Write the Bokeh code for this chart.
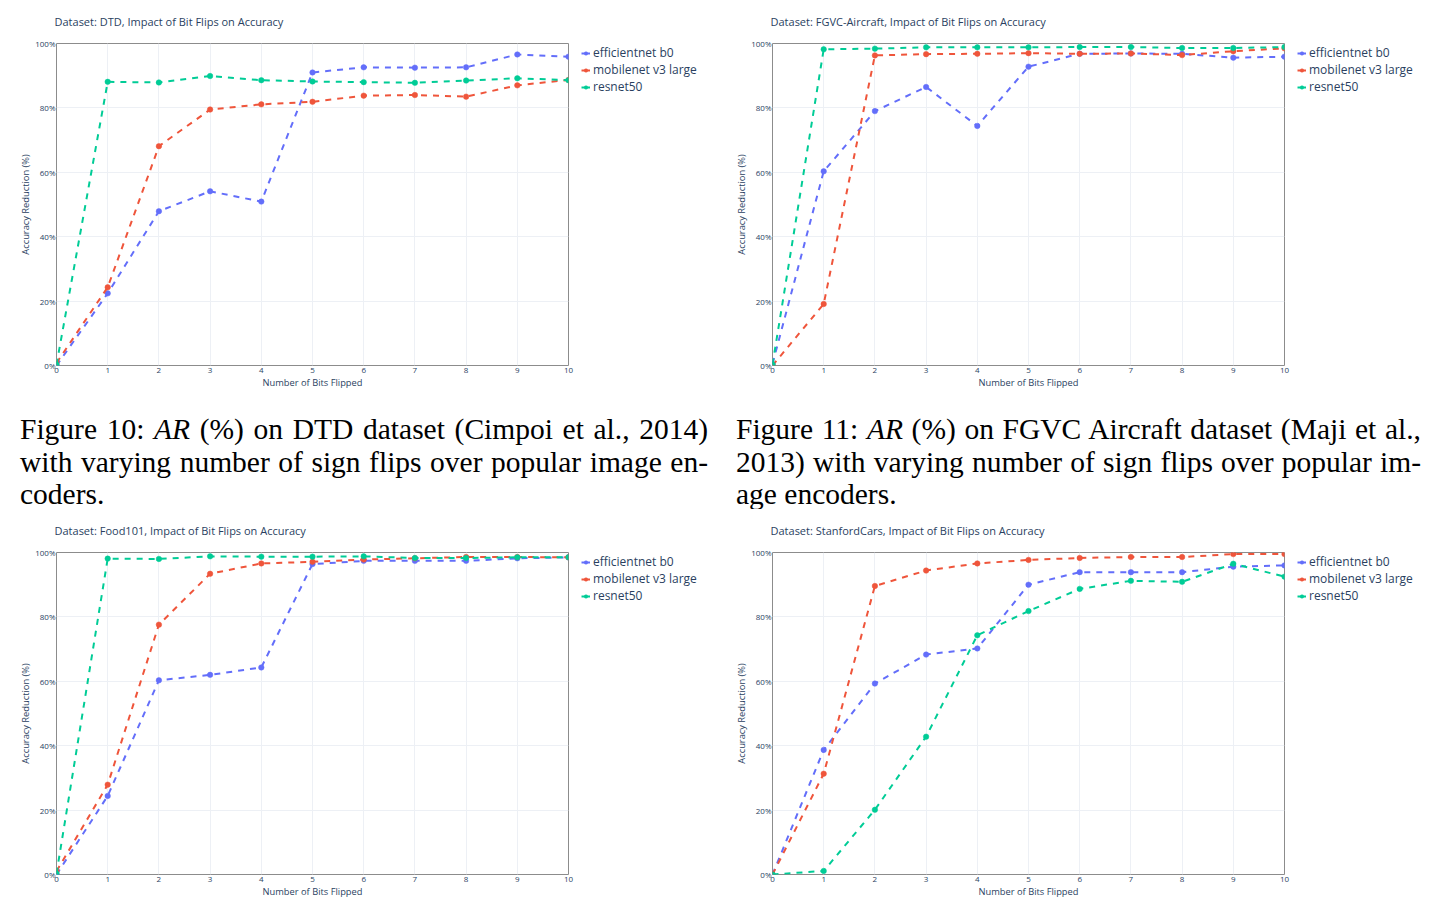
from bokeh.plotting import figure
from bokeh.layouts import column, row
from bokeh.models import (ColumnDataSource, Legend, LegendItem, FixedTicker,
                          PrintfTickFormatter, Range1d, Div)
from bokeh.embed import file_html
from bokeh.resources import INLINE

# ---- data: accuracy reduction (%) vs number of bits flipped ----
bits = list(range(11))
model_names = ["efficientnet b0", "mobilenet v3 large", "resnet50"]
model_colors = ["#636efa", "#ef553b", "#00cc96"]

dtd_efficientnet = [0.0, 22.4, 47.9, 54.1, 50.9, 91.0, 92.6, 92.5, 92.6, 96.6, 95.9]
dtd_mobilenet = [0.8, 24.3, 68.1, 79.5, 81.1, 81.9, 83.8, 84.0, 83.5, 87.0, 88.7]
dtd_resnet = [0.3, 88.1, 87.9, 89.9, 88.6, 88.2, 88.0, 87.8, 88.5, 89.2, 88.6]

fgvc_efficientnet = [0.5, 60.3, 79.0, 86.5, 74.4, 92.8, 96.8, 96.9, 96.8, 95.6, 95.9]
fgvc_mobilenet = [0.0, 19.1, 96.3, 96.7, 96.8, 97.0, 96.8, 96.9, 96.4, 97.6, 98.5]
fgvc_resnet = [0.3, 98.2, 98.4, 98.8, 98.8, 98.8, 98.9, 98.9, 98.6, 98.6, 98.9]

food_efficientnet = [0.0, 24.4, 60.3, 62.0, 64.3, 96.4, 97.4, 97.4, 97.4, 98.2, 98.5]
food_mobilenet = [1.0, 27.9, 77.6, 93.4, 96.6, 97.1, 97.8, 98.2, 98.6, 98.6, 98.5]
food_resnet = [0.3, 98.1, 98.0, 98.8, 98.7, 98.7, 98.8, 98.3, 98.3, 98.5, 98.5]

cars_efficientnet = [0.0, 38.7, 59.3, 68.3, 70.2, 90.0, 93.9, 93.9, 93.9, 95.6, 96.0]
cars_mobilenet = [0.0, 31.3, 89.6, 94.4, 96.6, 97.7, 98.3, 98.6, 98.6, 99.5, 99.5]
cars_resnet = [0.0, 1.1, 20.1, 42.8, 74.3, 81.8, 88.7, 91.2, 90.9, 96.5, 92.5]

x_ticks = list(range(11))
y_ticks = [0, 20, 40, 60, 80, 100]

TEXT = "#2a3f5f"
GRID = "#edf0f5"
FRAME = "#8c8c8c"
FONT = "Open Sans"


def make_panel(dataset, series, border_left, border_bottom):
    p = figure(frame_width=512, frame_height=322,
               min_border_left=border_left, min_border_right=8,
               min_border_top=43, min_border_bottom=border_bottom,
               x_range=Range1d(0, 10), y_range=Range1d(0, 100),
               output_backend="svg", toolbar_location=None,
               background_fill_color="white", border_fill_color="white")
    p.title.text = f"Dataset: {dataset}, Impact of Bit Flips on Accuracy"
    p.title.text_font = FONT
    p.title.text_font_size = "11px"
    p.title.text_font_style = "normal"
    p.title.text_color = TEXT
    p.title.align = "left"
    p.title.offset = -2
    p.title.vertical_align = "top"
    p.title.standoff = 25

    p.outline_line_color = FRAME
    p.outline_line_width = 1

    for ax in (p.xaxis[0], p.yaxis[0]):
        ax.axis_line_color = None
        ax.major_tick_line_color = None
        ax.minor_tick_line_color = None
        ax.major_tick_in = 0
        ax.major_tick_out = 0
        ax.minor_tick_in = 0
        ax.minor_tick_out = 0
        ax.major_label_text_font = FONT
        ax.major_label_text_font_size = "8px"
        ax.major_label_text_color = TEXT
        ax.axis_label_text_font = FONT
        ax.axis_label_text_font_size = "9.3px"
        ax.axis_label_text_font_style = "normal"
        ax.axis_label_text_color = TEXT

    p.xaxis.ticker = FixedTicker(ticks=x_ticks)
    p.yaxis.ticker = FixedTicker(ticks=y_ticks)
    p.yaxis.formatter = PrintfTickFormatter(format="%d%%")
    p.xaxis.axis_label = "Number of Bits Flipped"
    p.yaxis.axis_label = "Accuracy Reduction (%)"
    p.xaxis.major_label_standoff = 2
    p.xaxis.axis_label_standoff = 0
    p.yaxis.major_label_standoff = 1
    p.yaxis.axis_label_standoff = 0

    p.xgrid.grid_line_color = GRID
    p.ygrid.grid_line_color = GRID
    p.xgrid.grid_line_width = 1
    p.ygrid.grid_line_width = 1

    for color, values in zip(model_colors, series):
        src = ColumnDataSource(dict(x=bits, y=values))
        p.line("x", "y", source=src, line_color=color, line_width=2,
               line_dash="6 6")
        p.scatter("x", "y", source=src, size=5.5, fill_color=color,
                  line_color=color, line_width=0.5)
    return p


def make_legend(series, width, height, x_off, y_off):
    """Narrow side strip that carries the series key next to a panel.

    Its ranges sit away from the data, so only the key is visible here."""
    lg = figure(width=width, height=height, min_border=0,
                x_range=Range1d(100, 101), y_range=Range1d(0, 100),
                output_backend="svg", toolbar_location=None,
                x_axis_location=None, y_axis_location=None,
                outline_line_color=None, background_fill_color="white",
                border_fill_color="white")
    lg.xgrid.visible = False
    lg.ygrid.visible = False
    items = []
    for name, color, values in zip(model_names, model_colors, series):
        src = ColumnDataSource(dict(x=bits, y=values))
        stroke = lg.line("x", "y", source=src, line_color=color, line_width=2)
        dot = lg.scatter("x", "y", source=src, size=5.5, fill_color=color,
                         line_color=color, line_width=0.5)
        items.append(LegendItem(label=name, renderers=[stroke, dot]))
    legend = Legend(items=items, location=(x_off, y_off),
                    margin=0, padding=0, spacing=0,
                    glyph_width=9, glyph_height=16, label_height=16,
                    label_standoff=3,
                    label_text_font=FONT, label_text_font_size="12px",
                    label_text_color=TEXT,
                    background_fill_alpha=0, border_line_color=None)
    lg.add_layout(legend, "center")
    return lg


dtd = [dtd_efficientnet, dtd_mobilenet, dtd_resnet]
fgvc = [fgvc_efficientnet, fgvc_mobilenet, fgvc_resnet]
food = [food_efficientnet, food_mobilenet, food_resnet]
cars = [cars_efficientnet, cars_mobilenet, cars_resnet]

p_dtd = make_panel("DTD", dtd, 56, 35)
p_fgvc = make_panel("FGVC-Aircraft", fgvc, 53, 35)
p_food = make_panel("Food101", food, 56, 42)
p_cars = make_panel("StanfordCars", cars, 53, 42)

key_dtd = make_legend(dtd, 143, 400, 5, 270)
key_fgvc = make_legend(fgvc, 147, 400, 5, 270)
key_food = make_legend(food, 143, 407, 5, 270)
key_cars = make_legend(cars, 147, 407, 5, 270)

caption_left = [
    'Figure 10: <i>AR</i> (%) on DTD dataset (Cimpoi et al., 2014)',
    'with varying number of sign flips over popular image en-',
    'coders.',
]
caption_right = [
    'Figure 11: <i>AR</i> (%) on FGVC Aircraft dataset (Maji et al.,',
    '2013) with varying number of sign flips over popular im-',
    'age encoders.',
]


def caption(lines, width, pad_left, text_width):
    html = []
    for i, ln in enumerate(lines):
        last_align = "left" if i == len(lines) - 1 else "justify"
        html.append(
            f'<div style="width:{text_width}px;text-align:justify;'
            f'text-align-last:{last_align};">{ln}</div>')
    return Div(text="".join(html), width=width, height=109, margin=0,
               styles={"font-family": "'Liberation Serif', serif",
                       "font-size": "29.5px", "line-height": "32.5px",
                       "color": "black", "padding-left": f"{pad_left}px",
                       "padding-top": "13px", "box-sizing": "border-box",
                       "overflow": "hidden"})


cap_left = caption(caption_left, 719, 20, 688)
cap_right = caption(caption_right, 720, 17, 685)

layout = column(row(p_dtd, key_dtd, p_fgvc, key_fgvc, spacing=0),
                row(cap_left, cap_right, spacing=0),
                row(p_food, key_food, p_cars, key_cars, spacing=0), spacing=0)

open("out.html", "w").write(file_html(layout, INLINE))
